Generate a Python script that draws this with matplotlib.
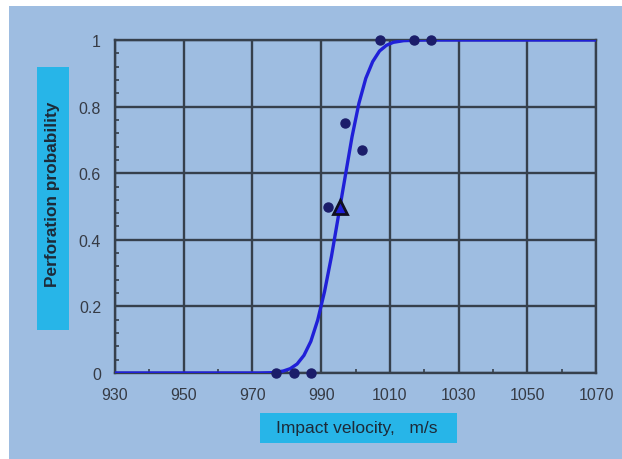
import matplotlib.pyplot as plt
from matplotlib.patches import Rectangle
from matplotlib.ticker import MultipleLocator

# Puntos experimentales (velocidad, probabilidad)
vel_ensayos = [977, 982, 987, 992, 997, 1002, 1007, 1017, 1022]
prob_ensayos = [0, 0, 0, 0.5, 0.75, 0.67, 1, 1, 1]

# Punto V50 (triangulo)
vel_v50 = [995.5]
prob_v50 = [0.5]

# Curva ajustada
vel_curva = [930, 972, 976, 979, 981, 983, 985, 987, 989, 991, 993, 995, 997,
             999, 1001, 1003, 1005, 1007, 1009, 1011, 1014, 1020, 1070]
prob_curva = [0, 0, 0.001, 0.006, 0.013, 0.027, 0.053, 0.095, 0.159, 0.245, 0.35,
              0.47, 0.59, 0.71, 0.81, 0.885, 0.935, 0.967, 0.984, 0.993, 0.998, 1, 1]

x_ticks = [930, 950, 970, 990, 1010, 1030, 1050, 1070]
y_ticks = [0, 0.2, 0.4, 0.6, 0.8, 1]
y_ticklabels = ['0', '0.2', '0.4', '0.6', '0.8', '1']

plt.rcParams['font.family'] = ['Liberation Sans', 'DejaVu Sans']

W, H = 622, 460
fig = plt.figure(figsize=(W / 100, H / 100), dpi=100, facecolor='white')

# Fondo azul claro
fig.patches.append(Rectangle((9 / W, 0), 1 - 9 / W, 1 - 7 / H, transform=fig.transFigure,
                             facecolor='#9ebde1', edgecolor='none', zorder=-10))

ax = fig.add_axes([115 / W, (H - 374) / H, 481 / W, 333 / H])
ax.set_facecolor('none')
ax.set_zorder(5)

ax.plot(vel_curva, prob_curva, color='#2020d8', lw=2.4, zorder=3, solid_capstyle='round')
ax.plot(vel_ensayos, prob_ensayos, 'o', color='#1b1d6a', ms=6.5, zorder=4, clip_on=False)
ax.plot(vel_v50, prob_v50, '^', color='#2020d8', mec='#101020', mew=2, ms=10, zorder=5)

ax.set_xlim(930, 1070)
ax.set_ylim(0, 1)
ax.set_xticks(x_ticks)
ax.set_xticklabels([str(v) for v in x_ticks])
ax.set_yticks(y_ticks)
ax.set_yticklabels(y_ticklabels)
ax.xaxis.set_minor_locator(MultipleLocator(10))
ax.yaxis.set_minor_locator(MultipleLocator(0.04))

ax.grid(True, which='major', color='#36404c', lw=1.7, zorder=1)
for s in ax.spines.values():
    s.set_color('#36404c')
    s.set_linewidth(1.7)

ax.tick_params(which='major', length=0, labelsize=11.5, labelcolor='#363b45', pad=10)
ax.tick_params(which='minor', direction='in', length=3, color='#36404c', width=1.2)
ax.tick_params(axis='y', which='major', pad=10)

# Etiqueta eje Y en caja cian
fig.patches.append(Rectangle((37 / W, (H - 331) / H), 32 / W, 263 / H, transform=fig.transFigure,
                             facecolor='#27b5e8', edgecolor='none', zorder=1))
fig.text(53 / W, 1 - 194 / H, 'Perforation probability', rotation=90, ha='center', va='center',
         fontsize=12.4, fontweight='bold', color='#1d2a38', zorder=2)

# Etiqueta eje X en caja cian
fig.patches.append(Rectangle((260 / W, (H - 444) / H), 197 / W, 30 / H, transform=fig.transFigure,
                             facecolor='#27b5e8', edgecolor='none', zorder=1))
fig.text(357 / W, 1 - 429 / H, 'Impact velocity,   m/s', ha='center', va='center',
         fontsize=12.5, color='#1d2a38', zorder=2)

plt.savefig('out.png', dpi=100)
